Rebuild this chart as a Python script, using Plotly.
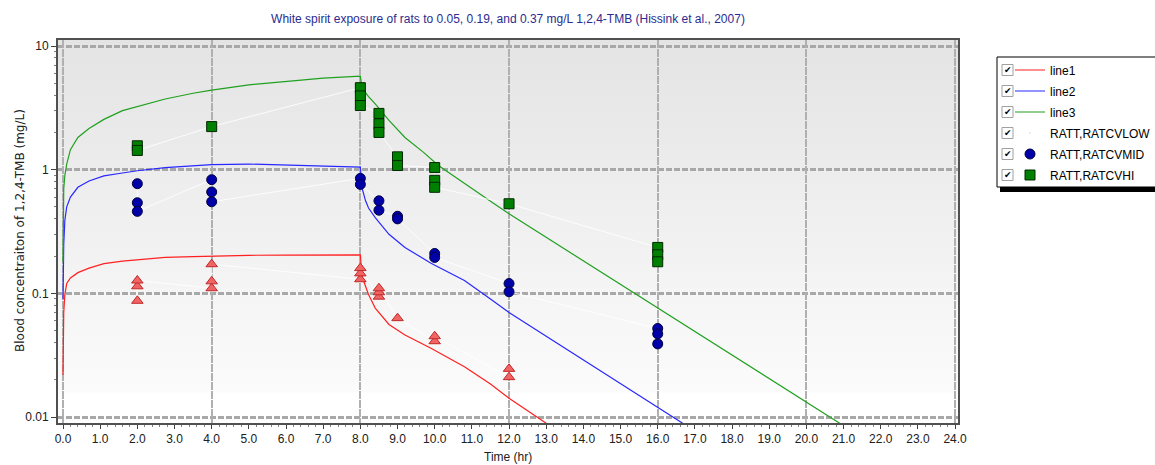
import plotly.graph_objects as go

# ---------------- data ----------------
# model predictions
t_line1 = [0, 0.02, 0.05, 0.1, 0.2, 0.4, 0.7, 1.1, 1.6, 2.0, 2.75, 3.5, 4, 5, 6, 7, 8,
           8.04, 8.14, 8.22, 8.4, 8.77, 9.2, 9.9, 10.8, 11.5, 12, 13, 14]
c_line1 = [0.022, 0.07, 0.098, 0.12, 0.133, 0.147, 0.16, 0.174, 0.182, 0.187, 0.195, 0.198, 0.2,
           0.203, 0.204, 0.205, 0.205,
           0.138, 0.112, 0.098, 0.076, 0.056, 0.046, 0.036, 0.0255, 0.0185, 0.0142, 0.0089, 0.0058]

t_line2 = [0, 0.02, 0.05, 0.1, 0.2, 0.4, 0.7, 1.1, 1.6, 2.0, 2.75, 3.5, 4, 5, 6, 7, 8,
           8.04, 8.14, 8.22, 8.4, 8.77, 9.2, 9.9, 10.8, 11.5, 12, 13, 14, 15, 16, 17]
c_line2 = [0.09, 0.25, 0.39, 0.5, 0.6, 0.72, 0.81, 0.89, 0.94, 0.98, 1.04, 1.08, 1.1,
           1.11, 1.09, 1.07, 1.05,
           0.72, 0.56, 0.49, 0.41, 0.3, 0.235, 0.175, 0.127, 0.09, 0.07, 0.045, 0.029,
           0.0185, 0.0119, 0.0077]

t_line3 = [0, 0.02, 0.05, 0.1, 0.2, 0.4, 0.7, 1.1, 1.6, 2.0, 2.75, 3.5, 4, 5, 6, 7, 8,
           8.04, 8.14, 8.22, 8.4, 8.77, 9.2, 9.7, 10.1, 10.8, 11.6, 12, 13, 14, 15, 16,
           17, 18, 19, 20, 21]
c_line3 = [0.18, 0.7, 0.9, 1.11, 1.45, 1.82, 2.15, 2.55, 3.0, 3.25, 3.73, 4.15, 4.4,
           4.85, 5.2, 5.5, 5.7,
           4.7, 4.2, 3.9, 3.4, 2.5, 1.82, 1.38, 1.08, 0.77, 0.53, 0.44, 0.284, 0.183,
           0.118, 0.076, 0.049, 0.0316, 0.0204, 0.0132, 0.0085]

# observed data (RATT)
t_low = [2, 2, 2, 4, 4, 4, 8, 8, 8, 8.5, 8.5, 8.5, 9, 10, 10, 12, 12]
c_low = [0.087, 0.114, 0.127, 0.11, 0.125, 0.172, 0.13, 0.145, 0.16,
         0.094, 0.102, 0.11, 0.063, 0.041, 0.045, 0.021, 0.0245]

t_mid = [2, 2, 2, 4, 4, 4, 8, 8, 8.5, 8.5, 9, 9, 10, 10, 12, 12, 16, 16, 16]
c_mid = [0.77, 0.54, 0.46, 0.83, 0.66, 0.55, 0.85, 0.76, 0.56, 0.47, 0.42, 0.40,
         0.21, 0.195, 0.12, 0.103, 0.052, 0.047, 0.039]

t_hi = [2, 2, 4, 8, 8, 8, 8.5, 8.5, 8.5, 9, 9, 10, 10, 10, 12, 16, 16, 16]
c_hi = [1.56, 1.43, 2.23, 4.6, 3.95, 3.3, 2.85, 2.35, 2.0, 1.27, 1.08,
        1.04, 0.82, 0.72, 0.53, 0.235, 0.205, 0.18]

x_ticks = [i for i in range(0, 25)]
x_ticktext = [f"{v:.1f}" for v in x_ticks]
y_ticks = [0.01, 0.1, 1, 10]
y_ticktext = ["0.01", "0.1", "1", "10"]

legend_names = ["line1", "line2", "line3", "RATT,RATCVLOW", "RATT,RATCVMID", "RATT,RATCVHI"]

# ---------------- layout geometry (pixels) ----------------
W, H = 1155, 465
L, R, T, B = 58, 958, 40, 423
PW, PH = R - L, B - T
X0_PX, PX_PER_HR = 63, 37.17


def px(xp):
    return (xp - L) / PW


def py(yp):
    return (B - yp) / PH


FONT = "Liberation Sans"
fig = go.Figure()

# model lines
fig.add_trace(go.Scatter(x=t_line1, y=c_line1, mode="lines", name=legend_names[0],
                         legendgroup="g1", line=dict(color="#ff2020", width=1.2)))
fig.add_trace(go.Scatter(x=t_line2, y=c_line2, mode="lines", name=legend_names[1],
                         legendgroup="g2", line=dict(color="#2828ff", width=1.2)))
fig.add_trace(go.Scatter(x=t_line3, y=c_line3, mode="lines", name=legend_names[2],
                         legendgroup="g3", line=dict(color="#20a020", width=1.2)))

# legend-only entry for low group (reference shows no symbol)
fig.add_trace(go.Scatter(x=[None], y=[None], mode="markers", name=legend_names[3],
                         legendgroup="g4", marker=dict(opacity=0, size=1)))

connector = dict(color="rgba(255,255,255,0.85)", width=1)
fig.add_trace(go.Scatter(x=t_mid, y=c_mid, mode="lines+markers", name=legend_names[4],
                         legendgroup="g5", line=connector,
                         marker=dict(symbol="circle", size=10, color="#0000a8",
                                     line=dict(color="#000040", width=1))))
fig.add_trace(go.Scatter(x=t_hi, y=c_hi, mode="lines+markers", name=legend_names[5],
                         legendgroup="g6", line=connector,
                         marker=dict(symbol="square", size=10, color="#008000",
                                     line=dict(color="#002800", width=1))))
fig.add_trace(go.Scatter(x=t_low, y=c_low, mode="lines+markers", showlegend=False,
                         line=connector,
                         marker=dict(symbol="triangle-up", size=10, color="#f06464",
                                     line=dict(color="#c02828", width=1))))

# invisible trace to carry the vertical-grid overlay axis
fig.add_trace(go.Scatter(x=[None], y=[None], xaxis="x2", showlegend=False, hoverinfo="skip"))

# ---------------- background gradient ----------------
shapes = []
top_val, bot_val = 228, 251
grad_end = 392
nb = 44
for i in range(nb):
    y0p = T + (grad_end - T) * i / nb
    y1p = T + (grad_end - T) * (i + 1) / nb + 0.6
    v = int(round(top_val + (bot_val - top_val) * i / (nb - 1)))
    shapes.append(dict(type="rect", xref="x domain", yref="y domain", x0=0, x1=1,
                       y0=(B - y1p) / PH, y1=(B - y0p) / PH, layer="below",
                       line=dict(width=0), fillcolor=f"rgb({v},{v},{v})"))

# ---------------- legend box, shadow, checkboxes ----------------
shapes.append(dict(type="rect", xref="paper", yref="paper",
                   x0=px(1000), x1=px(1175), y0=py(192), y1=py(60),
                   fillcolor="black", line=dict(width=0), layer="above"))
shapes.append(dict(type="rect", xref="paper", yref="paper",
                   x0=px(997), x1=px(1170), y0=py(187), y1=py(57),
                   fillcolor="white", line=dict(color="black", width=1), layer="above"))
item_y = [70, 91, 112, 133, 154, 175]
annotations = []
for yc in item_y:
    shapes.append(dict(type="rect", xref="paper", yref="paper",
                       x0=px(1002), x1=px(1013), y0=py(yc + 5.5), y1=py(yc - 5.5),
                       fillcolor="white", line=dict(color="#a0a0a0", width=1), layer="above"))
    annotations.append(dict(xref="paper", yref="paper", x=px(1007.5), y=py(yc),
                            text="✔", showarrow=False, xanchor="center", yanchor="middle",
                            font=dict(family="DejaVu Sans", size=9, color="black")))

# axis titles
annotations.append(dict(xref="paper", yref="paper", x=px(508), y=py(457), text="Time (hr)",
                        showarrow=False, xanchor="center", yanchor="middle",
                        font=dict(family=FONT, size=12, color="#202020")))
annotations.append(dict(xref="paper", yref="paper", x=px(20), y=py(231),
                        text="Blood concentraiton of 1,2,4-TMB (mg/L)", textangle=-90,
                        showarrow=False, xanchor="center", yanchor="middle",
                        font=dict(family="DejaVu Sans", size=12, color="#202020")))

y_minor = []
for dec in [0.01, 0.1, 1]:
    for k in range(2, 10):
        y_minor.append(dec * k)

x_range = [(L - X0_PX) / PX_PER_HR, (R - X0_PX) / PX_PER_HR]

fig.update_layout(
    width=W, height=H,
    margin=dict(l=L, r=W - R, t=T, b=H - B, autoexpand=False),
    paper_bgcolor="white", plot_bgcolor="white",
    title=dict(text="White spirit exposure of rats to 0.05, 0.19, and 0.37 mg/L 1,2,4-TMB (Hissink et al., 2007)",
               x=508 / W, xanchor="center", y=1 - 19 / H, yanchor="middle",
               font=dict(family=FONT, size=12, color="#2b2b90")),
    xaxis=dict(range=x_range, tickvals=x_ticks, ticktext=x_ticktext,
               showgrid=False, zeroline=False, ticks="outside", ticklen=4, tickcolor="#404040",
               showline=True, linecolor="#505050", linewidth=2, mirror=True,
               minor=dict(dtick=0.2, ticks="outside", ticklen=2, tickcolor="#808080"),
               tickfont=dict(family=FONT, size=12, color="#202020")),
    xaxis2=dict(overlaying="x", range=x_range, tick0=0, dtick=4,
                showgrid=True, gridcolor="#b0b0b0", gridwidth=1.6, griddash="8px,1px",
                showticklabels=False, ticks="", zeroline=False, showline=False),
    yaxis=dict(type="log", range=[-2.0485, 1.0485], tickvals=y_ticks, ticktext=y_ticktext,
               showgrid=True, gridcolor="#a8a8a8", gridwidth=2.6, griddash="6px,2px",
               zeroline=False, ticks="outside", ticklen=5, tickcolor="#404040",
               showline=True, linecolor="#505050", linewidth=2, mirror=True,
               minor=dict(tickvals=y_minor, ticks="outside", ticklen=2, tickcolor="#808080",
                          showgrid=False),
               tickfont=dict(family=FONT, size=12, color="#202020")),
    legend=dict(x=px(1010), y=py(55.5), xanchor="left", yanchor="top",
                bgcolor="rgba(0,0,0,0)", borderwidth=0, tracegroupgap=2,
                font=dict(family=FONT, size=12, color="black")),
    shapes=shapes,
    annotations=annotations,
    showlegend=True,
)

fig.write_html("out.html", config={"displayModeBar": False},
               post_script="document.body.style.margin='0';")
